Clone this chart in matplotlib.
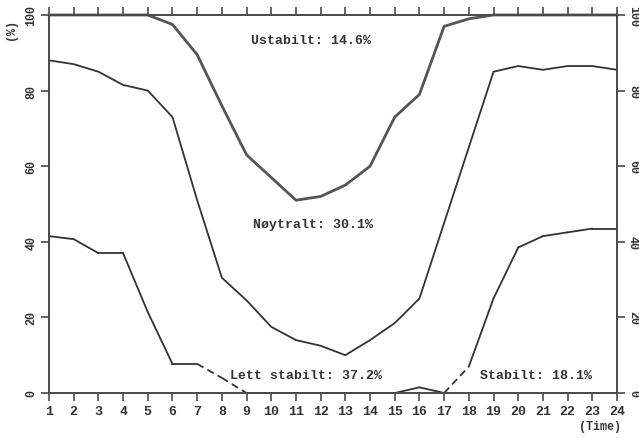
import sys

import matplotlib
matplotlib.use('Agg')
import matplotlib.pyplot as plt

# hour of day
hours = [1, 2, 3, 4, 5, 6, 7, 8, 9, 10, 11, 12,
         13, 14, 15, 16, 17, 18, 19, 20, 21, 22, 23, 24]

# cumulative frequency (%) for each stability class boundary
ustabil_grense = [100, 100, 100, 100, 100, 97.5, 89.5, 76, 63, 57, 51, 52,
                  55, 60, 73, 79, 97, 99, 100, 100, 100, 100, 100, 100]
noytral_grense = [88, 87, 85, 81.5, 80, 73, 51, 30.5, 24.5, 17.5, 14, 12.5,
                  10, 14, 18.5, 25, 45, 65, 85, 86.5, 85.5, 86.5, 86.5, 85.5]
lett_grense = [41.5, 40.7, 37, 37, 21.4, 7.7, 7.7, 4, 0, 0, 0, 0,
               0, 0, 0, 1.5, 0, 7, 25, 38.5, 41.5, 42.5, 43.5, 43.5]

# hour spans where the lower boundary was plotted dashed
dashed_spans = [(7, 9), (17, 18)]

y_ticks = [0, 20, 40, 60, 80, 100]

class_labels = ['Ustabilt: 14.6%', 'Nøytralt: 30.1%',
                'Lett stabilt: 37.2%', 'Stabilt: 18.1%']
label_pos = [(11.6, 93.4), (11.7, 44.7), (11.4, 4.8), (20.7, 4.8)]

FONT = 'Liberation Mono'
AXIS_COL = '#4a4a4a'
TEXT_COL = '#333333'
LINE_COL = '#333333'


def plot_boundary(ax, values, spans):
    """
        Plots a boundary curve hour by hour, dashed inside the given spans.
    """
    for i in range(len(hours) - 1):
        h0, h1 = hours[i], hours[i + 1]
        dashed = any(a <= h0 and h1 <= b for a, b in spans)
        ls = (0, (4, 2.5)) if dashed else '-'
        ax.plot([h0, h1], [values[i], values[i + 1]], color=LINE_COL,
                lw=1.3, linestyle=ls, solid_capstyle='round', clip_on=False)


def plot_stability():
    fig = plt.figure(figsize=(6.39, 4.39), dpi=100)
    ax = fig.add_axes([49 / 639., 1 - 394 / 439., 568 / 639., 378 / 439.])

    ax.plot(hours, ustabil_grense, color='#555555', lw=2.0, clip_on=False)
    ax.plot(hours, noytral_grense, color=LINE_COL, lw=1.3, clip_on=False)
    plot_boundary(ax, lett_grense, dashed_spans)

    for text, (x, y) in zip(class_labels, label_pos):
        ax.text(x, y, text, ha='center', va='center', family=FONT,
                fontweight='bold', fontsize=9.5, color=TEXT_COL)

    ax.set_xlim(1, 24)
    ax.set_ylim(0, 100)

    for side in ['left', 'right', 'top', 'bottom']:
        ax.spines[side].set_color(AXIS_COL)
        ax.spines[side].set_linewidth(1.4)

    ax.set_xticks(hours)
    ax.set_xticklabels([str(h) for h in hours], family=FONT,
                       fontweight='bold', fontsize=9.5, color=TEXT_COL)
    ax.tick_params(axis='x', direction='out', length=6, width=1.2,
                   color=AXIS_COL, top=True, pad=3)

    ax.set_yticks(y_ticks)
    ax.set_yticklabels([str(v) for v in y_ticks], family=FONT,
                       fontweight='bold', fontsize=8.5, color=TEXT_COL,
                       rotation=90, va='center')
    ax.tick_params(axis='y', direction='out', length=5.5, width=1.2,
                   color=AXIS_COL, right=True, labelright=False, pad=3)

    # right-hand labels read top to bottom
    for v in y_ticks:
        ax.text(1.028, v, str(v), transform=ax.get_yaxis_transform(),
                rotation=-90, ha='center', va='center', family=FONT,
                fontweight='bold', fontsize=8.5, color=TEXT_COL)

    fig.text(11 / 639., 1 - 30 / 439., '(%)', rotation=90, ha='center',
             va='center', family=FONT, fontweight='bold', fontsize=8.5,
             color=TEXT_COL)
    fig.text(600 / 639., 1 - 427 / 439., '(Time)', ha='center', va='center',
             family=FONT, fontweight='bold', fontsize=8.5, color=TEXT_COL)

    fig.savefig('out.png', dpi=100, facecolor='white')


def main():
    plot_stability()


if __name__ == '__main__':
    sys.exit(main())
